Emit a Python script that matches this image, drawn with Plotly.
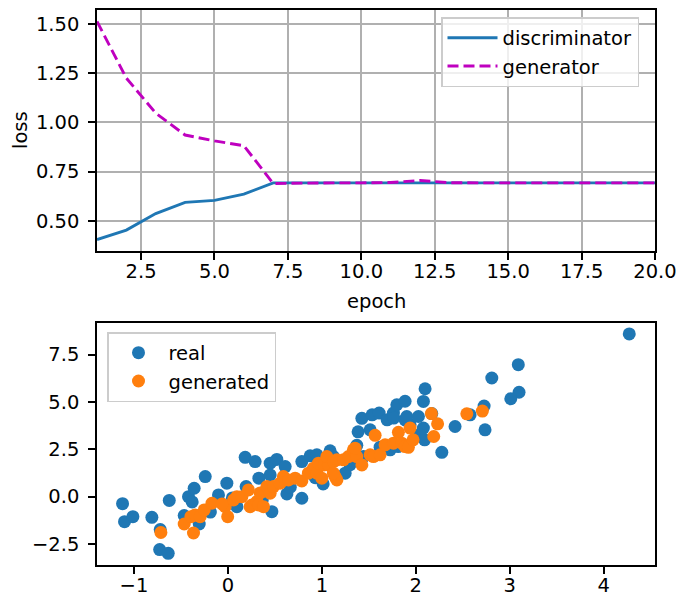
import plotly.graph_objects as go

# ---------------- data ----------------
epochs = list(range(1, 21))
loss_D = [0.405, 0.453, 0.537, 0.594, 0.604, 0.636, 0.693, 0.693, 0.693, 0.693,
          0.693, 0.693, 0.693, 0.693, 0.693, 0.693, 0.693, 0.693, 0.693, 0.693]
loss_G = [1.513, 1.225, 1.047, 0.936, 0.906, 0.882, 0.690, 0.693, 0.693, 0.693,
          0.695, 0.705, 0.694, 0.693, 0.693, 0.693, 0.693, 0.693, 0.693, 0.693]

real_x = [-1.121, -1.100, -1.011, -0.809, -0.720, -0.726, -0.635, -0.624, -0.465, -0.419,
          -0.380, -0.359, -0.241, -0.305, -0.100, -0.011, 0.096, 0.184, 0.290, 0.194,
          0.330, 0.450, 0.450, 0.521, 0.610, 0.468, 0.628, 0.787, 0.787, 0.876,
          0.947, 1.014, 1.088, 1.123, 1.248, 1.372, 1.443, 1.386, 1.426, 1.535,
          1.610, 1.514, 1.695, 1.762, 1.798, 1.886, 1.765, 1.886, 1.939, 1.727,
          1.812, 1.904, 2.028, 2.081, 2.099, 2.170, 2.081, 2.094, 2.277, 2.418,
          2.578, 2.727, 2.737, 2.809, 3.091, 3.099, 3.011, 4.272,
          -0.186, 0.048, 0.366, 0.664, 0.930, 1.301, 1.620, 2.040]
real_y = [-0.370, -1.323, -1.058, -1.090, -1.735, -2.794, -2.995, -0.201, -0.995, 0.000,
          -0.280, 0.444, 1.058, -1.444, 0.090, 0.709, -0.529, 2.074, 1.852, 0.529,
          0.974, 1.148, 1.767, 1.968, 1.587, -0.794, 0.143, -0.085, 1.852, 2.153,
          2.206, 0.672, 2.418, 2.116, 1.238, 2.709, 2.116, 3.423, 4.138, 4.323,
          4.413, 3.529, 4.058, 4.413, 4.852, 5.037, 4.150, 4.058, 3.794, 2.471,
          2.646, 4.233, 4.233, 5.026, 5.698, 4.386, 3.619, 3.000, 2.339, 3.704,
          4.323, 4.783, 3.529, 6.265, 6.968, 5.513, 5.169, 8.593,
          -0.815, -0.070, -0.175, 0.500, 1.000, 1.683, 2.614, 3.280]

gen_x = [-0.713, -0.465, -0.366, -0.394, -0.348, -0.295, -0.252, -0.170, -0.029, -0.002,
         -0.061, 0.060, 0.096, 0.149, 0.219, 0.255, 0.237, 0.309, 0.344, 0.326,
         0.379, 0.415, 0.450, 0.485, 0.556, 0.591, 0.645, 0.716, 0.787, 0.857,
         0.911, 0.947, 0.964, 1.000, 1.024, 1.070, 1.053, 1.123, 1.141, 1.160,
         1.123, 1.160, 1.230, 1.283, 1.336, 1.372, 1.354, 1.426, 1.514, 1.549,
         1.567, 1.620, 1.673, 1.762, 1.815, 1.851, 1.886, 1.921, 1.939, 1.971,
         2.166, 2.232, 2.191, 2.543, 2.709]
gen_y = [-1.894, -1.444, -1.921, -1.058, -0.968, -1.058, -0.704, -0.349, -0.529, -1.058,
         -0.386, -0.175, 0.000, 0.000, 0.354, -0.441, -0.529, -0.265, 0.196, -0.439,
         -0.529, 0.529, 0.180, 0.529, 0.709, 1.058, 0.884, 0.974, 0.831, 1.238,
         1.503, 1.238, 1.767, 0.974, 1.677, 1.677, 2.116, 1.852, 1.058, 0.884,
         1.238, 1.942, 1.942, 2.116, 2.471, 2.116, 2.561, 1.677, 2.206, 2.116,
         3.238, 2.206, 2.735, 2.825, 3.397, 2.825, 2.646, 2.603, 3.619, 3.000,
         4.386, 3.847, 3.175, 4.376, 4.519]

# ---------------- figure ----------------
W, H = 678, 595
FONT = "DejaVu Sans"
FS = 19.5
BLUE = "#1f77b4"
ORANGE = "#ff7f0e"
MAG = "#bf00bf"

fig = go.Figure()

fig.add_trace(go.Scatter(x=epochs, y=loss_D, mode="lines", name="discriminator",
                         line=dict(color=BLUE, width=2.9), xaxis="x", yaxis="y",
                         legend="legend", legendgroup="d"))
fig.add_trace(go.Scatter(x=epochs, y=loss_G, mode="lines", name="generator",
                         line=dict(color=MAG, width=2.9, dash="11px,5px"), xaxis="x", yaxis="y",
                         legend="legend", legendgroup="g"))

fig.add_trace(go.Scatter(x=real_x, y=real_y, mode="markers", name="real",
                         marker=dict(color=BLUE, size=13, line=dict(width=0)),
                         xaxis="x2", yaxis="y2", legend="legend2", legendgroup="r"))
fig.add_trace(go.Scatter(x=gen_x, y=gen_y, mode="markers", name="generated",
                         marker=dict(color=ORANGE, size=13, line=dict(width=0)),
                         xaxis="x2", yaxis="y2", legend="legend2", legendgroup="f"))

def px(v):
    return v / W

def py(v):
    return 1 - v / H

axis_common = dict(showline=True, linecolor="black", linewidth=1.5, mirror=True,
                   ticks="outside", ticklen=7, tickwidth=1.5, tickcolor="black",
                   tickfont=dict(family=FONT, size=FS, color="black"), zeroline=False,
                   automargin=False)
xaxis_extra = dict(ticklabelstandoff=-5)
yaxis_extra = dict(ticklabelstandoff=5)

legend_common = dict(xanchor="left", yanchor="top",
                     bgcolor="rgba(255,255,255,0.8)", bordercolor="#cccccc", borderwidth=1.5,
                     font=dict(family=FONT, size=FS), traceorder="grouped",
                     tracegroupgap=0, itemwidth=50)

fig.update_layout(
    width=W, height=H,
    margin=dict(l=0, r=0, t=0, b=0),
    paper_bgcolor="white", plot_bgcolor="white",
    font=dict(family=FONT, size=FS, color="black"),
    xaxis=dict(domain=[px(97), px(655)], anchor="y", range=[1, 20],
               tick0=0, dtick=2.5, tickformat=".1f",
               showgrid=True, gridcolor="#b0b0b0", gridwidth=1.5,
               **axis_common, **xaxis_extra),
    yaxis=dict(domain=[py(251), py(10)], anchor="x", range=[0.347, 1.571],
               tick0=0, dtick=0.25, tickformat=".2f",
               showgrid=True, gridcolor="#b0b0b0", gridwidth=1.5,
               **axis_common, **yaxis_extra),
    xaxis2=dict(domain=[px(97), px(655)], anchor="y2", range=[-1.393, 4.546],
                tick0=0, dtick=1, showgrid=False, **axis_common, **xaxis_extra),
    yaxis2=dict(domain=[py(565), py(323)], anchor="x2", range=[-3.61, 9.17],
                tick0=0, dtick=2.5, tickformat=".1f", showgrid=False,
                **axis_common, **yaxis_extra),
    legend=dict(x=px(441), y=py(17), **legend_common),
    legend2=dict(x=px(107), y=py(332), **legend_common),
    showlegend=True,
    annotations=[
        dict(text="epoch", x=px(376), y=py(301), xref="paper", yref="paper",
             xanchor="center", yanchor="middle", showarrow=False,
             font=dict(family=FONT, size=FS, color="black")),
        dict(text="loss", x=px(20), y=py(130), xref="paper", yref="paper",
             xanchor="center", yanchor="middle", showarrow=False, textangle=-90,
             font=dict(family=FONT, size=FS, color="black")),
    ],
)

fig.write_html("out.html", config={"displayModeBar": False},
               post_script="document.body.style.margin='0';document.body.style.padding='0';")
